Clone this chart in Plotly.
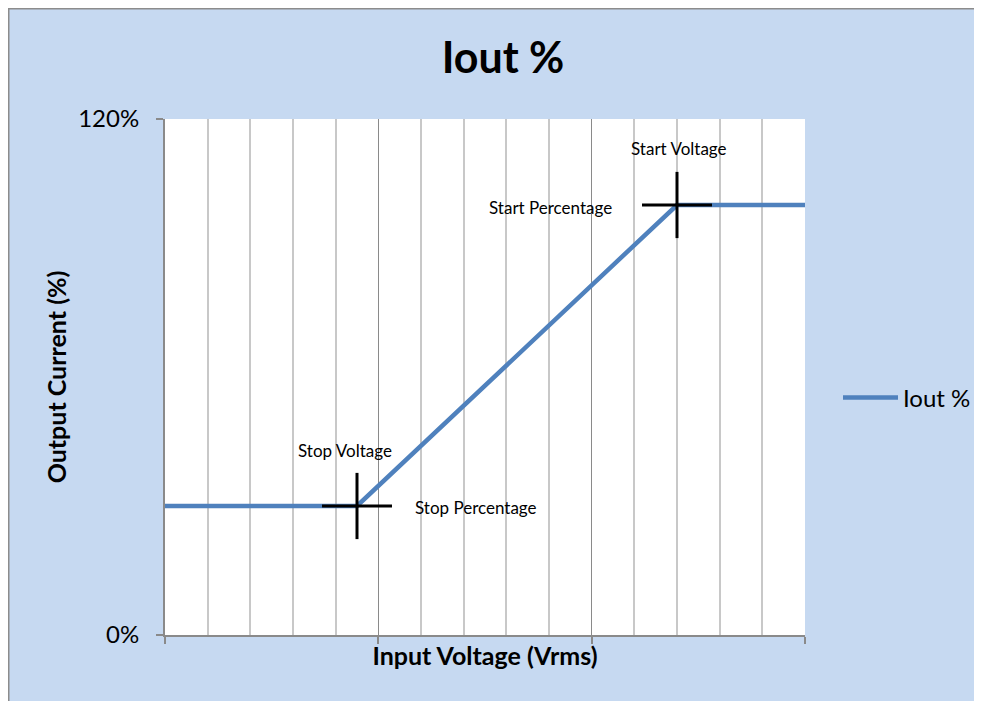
import plotly.graph_objects as go

# Data
voltage = [0, 4.5, 12, 15]
iout = [0.30, 0.30, 1.00, 1.00]
marker_x = [4.5, 12]
marker_y = [0.30, 1.00]
cross_x_half = 0.82
cross_y_half = 0.077
y_tickvals = [0, 1.2]
y_ticktext = ["0%", "120%"]

BLUE_BG = "#C6D9F1"
LINE = "#4F81BD"
FONT = "Lato"

fig = go.Figure()
fig.add_trace(go.Scatter(
    x=voltage, y=iout, mode="lines", name="Iout %",
    line=dict(color=LINE, width=4.5),
))
fig.add_trace(go.Scatter(
    x=marker_x, y=marker_y, mode="markers", showlegend=False, hoverinfo="skip",
    marker=dict(size=1, color="rgba(0,0,0,0)"),
    error_x=dict(type="constant", value=cross_x_half, color="black", thickness=3, width=0),
    error_y=dict(type="constant", value=cross_y_half, color="black", thickness=3, width=0),
))

ann_font = dict(family=FONT, size=17, color="black")
anns = [
    dict(x=marker_x[0], y=marker_y[0], text="Stop Voltage", xshift=-12, yshift=56),
    dict(x=marker_x[0], y=marker_y[0], text="Stop Percentage", xshift=119, yshift=-1),
    dict(x=marker_x[1], y=marker_y[1], text="Start Voltage", xshift=2, yshift=57),
    dict(x=marker_x[1], y=marker_y[1], text="Start Percentage", xshift=-127, yshift=-2),
]
for a in anns:
    fig.add_annotation(xref="x", yref="y", showarrow=False, font=ann_font, **a)

# Figure sits 8px into the page (body margin)
W, H = 974, 693
L, R, T, B = 157, 177, 111, 66
pw, ph = W - L - R, H - T - B
def px(v):
    return (v - L) / pw
def py(v):
    return (H - B - v) / ph

shapes = [
    dict(type="line", xref="paper", yref="paper", x0=px(0), x1=px(W + 5), y0=py(0.5), y1=py(0.5),
         line=dict(color="#8C8C8C", width=2), layer="above"),
    dict(type="line", xref="paper", yref="paper", x0=px(0.5), x1=px(0.5), y0=py(H + 5), y1=py(0),
         line=dict(color="#8C8C8C", width=2), layer="above"),
]

fig.update_layout(
    width=W, height=H,
    margin=dict(l=L, r=R, t=T, b=B, autoexpand=False),
    paper_bgcolor=BLUE_BG, plot_bgcolor="white",
    shapes=shapes,
    title=dict(text="<b>Iout %</b>", x=495 / W, xanchor="center", y=1 - 50 / H, yanchor="middle",
               font=dict(family=FONT, size=43, color="black")),
    showlegend=True,
    legend=dict(x=px(830), y=py(390), xanchor="left", yanchor="middle",
                font=dict(family=FONT, size=24, color="black"), itemwidth=55,
                bgcolor="rgba(0,0,0,0)"),
    xaxis=dict(
        range=[0, 15], showticklabels=False, dtick=5, tick0=0,
        showgrid=True, gridcolor="#8A8A8A", gridwidth=1,
        minor=dict(dtick=1, showgrid=True, gridcolor="#C8C8C8", gridwidth=2, ticks=""),
        ticks="outside", ticklen=7, tickcolor="#8A8A8A", tickwidth=2,
        showline=True, linecolor="#8A8A8A", linewidth=2,
        zeroline=False, fixedrange=True,
        title=dict(text="<b>Input Voltage (Vrms)</b>", font=dict(family=FONT, size=25, color="black"), standoff=4),
    ),
    yaxis=dict(
        range=[0, 1.2], tickvals=y_tickvals, ticktext=y_ticktext,
        showgrid=False, zeroline=False,
        ticks="outside", ticklen=7, tickcolor="#8A8A8A", tickwidth=2,
        ticklabelstandoff=12,
        showline=True, linecolor="#8A8A8A", linewidth=2,
        tickfont=dict(family=FONT, size=24, color="black"),
        title=dict(text="<b>Output Current (%)</b>", font=dict(family=FONT, size=25, color="black"), standoff=4),
    ),
)

fig.write_html("out.html")
